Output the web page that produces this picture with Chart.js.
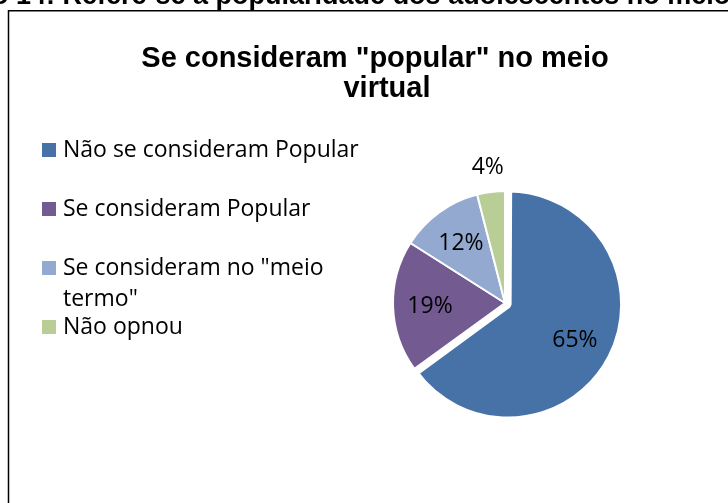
<!DOCTYPE html>
<html lang="pt">
<head>
<meta charset="utf-8">
<title>Se consideram "popular" no meio virtual</title>
<script src="https://cdn.jsdelivr.net/npm/chart.js@4/dist/chart.umd.min.js"></script>
<style>
    html, body { margin: 0; padding: 0; background: #ffffff; }
    #wrap { position: relative; width: 728px; height: 503px; }
</style>
</head>
<body>
<div id="wrap"><canvas id="popChart"></canvas></div>
<script>
// ==================== DATA ====================

const captionText = 'Gráfico 14: Refere-se a popularidade dos adolescentes no meio virtual';
const titleLines = ['Se consideram "popular" no meio', 'virtual'];
const categories = [
    'Não se consideram Popular',
    'Se consideram Popular',
    'Se consideram no "meio termo"',
    'Não opnou'
];
const percentages = [65, 19, 12, 4];
const sliceColors = ['#4672a8', '#735a91', '#93a9d0', '#b9cd97'];

// Chart.js pushes an arc out by offset/4 px and also grows it by the same amount;
// the wider white border on the pulled-out slice trims it back to the common radius
const sliceOffsets = [14, 0, 0, 0];
const sliceBorders = [7, 2, 2, 2];

// ==================== FONTS ====================

const TITLE_FONT = 'bold 29px "Liberation Sans", Arial, sans-serif';
const CAPTION_FONT = 'bold 27px "Liberation Sans", Arial, sans-serif';
const BODY_FONT = '23px "Open Sans", "Noto Sans", sans-serif';

// ==================== PLUGINS ====================

// Caption line above the box, the box frame and the chart title
const framePlugin = {
    id: 'framePlugin',
    beforeDraw(chart) {
        const ctx = chart.ctx;
        ctx.save();
        ctx.fillStyle = '#ffffff';
        ctx.fillRect(0, 0, chart.width, chart.height);

        // caption sits mostly above the visible page
        ctx.font = CAPTION_FONT;
        ctx.fillStyle = '#000000';
        ctx.textBaseline = 'alphabetic';
        const lead = ctx.measureText('Gráfico ').width;
        ctx.fillText(captionText, 16 - lead, 4);

        // frame (only top and left edges fall inside the page)
        ctx.strokeStyle = '#000000';
        ctx.lineWidth = 1.5;
        ctx.beginPath();
        ctx.moveTo(8.5, chart.height + 2);
        ctx.lineTo(8.5, 10.75);
        ctx.lineTo(chart.width + 2, 10.75);
        ctx.stroke();

        // title
        ctx.font = TITLE_FONT;
        ctx.textAlign = 'center';
        ctx.fillText(titleLines[0], 375, 67);
        ctx.fillText(titleLines[1], 387, 97);
        ctx.restore();
    }
};

// Split a label into lines that fit maxWidth
function wrapText(ctx, text, maxWidth) {
    const words = text.split(' ');
    const lines = [];
    let line = '';
    words.forEach(w => {
        const test = line ? line + ' ' + w : w;
        if (ctx.measureText(test).width > maxWidth && line) {
            lines.push(line);
            line = w;
        } else {
            line = test;
        }
    });
    if (line) lines.push(line);
    return lines;
}

// Legend on the left: one fixed slot per item, long labels wrap downward
const sideLegend = {
    id: 'sideLegend',
    afterDraw(chart) {
        const ctx = chart.ctx;
        const ds = chart.data.datasets[0];
        ctx.save();
        ctx.font = BODY_FONT;
        ctx.textAlign = 'left';
        ctx.textBaseline = 'alphabetic';
        chart.data.labels.forEach((label, i) => {
            const base = 157 + i * 59;
            ctx.fillStyle = ds.backgroundColor[i];
            ctx.fillRect(42, base - 14, 14, 14);
            ctx.fillStyle = '#000000';
            const lines = wrapText(ctx, label, 305);
            lines.forEach((ln, k) => ctx.fillText(ln, 63, base + k * 31));
        });
        ctx.restore();
    }
};

// Percent labels: inside the larger slices, just outside the small one
const sliceLabels = {
    id: 'sliceLabels',
    afterDatasetsDraw(chart) {
        const ctx = chart.ctx;
        const meta = chart.getDatasetMeta(0);
        const values = chart.data.datasets[0].data;
        const total = values.reduce((a, b) => a + b, 0);
        ctx.save();
        ctx.font = BODY_FONT;
        ctx.fillStyle = '#000000';
        ctx.textAlign = 'center';
        ctx.textBaseline = 'alphabetic';
        meta.data.forEach((arc, i) => {
            const p = arc.getProps(['x', 'y', 'startAngle', 'endAngle', 'outerRadius'], true);
            const mid = (p.startAngle + p.endAngle) / 2;
            const share = values[i] / total;
            const off = (arc.options.offset || 0) / 4;
            const r = share < 0.05 ? p.outerRadius * 1.23 : p.outerRadius * 0.67 + off;
            const x = p.x + Math.cos(mid) * r;
            const y = p.y + Math.sin(mid) * r;
            // baseline placed so the digits are centred on the point
            ctx.fillText(Math.round(share * 100) + '%', x, y + 8);
        });
        ctx.restore();
    }
};

// ==================== CHART ====================

const popChart = new Chart(document.getElementById('popChart'), {
    type: 'pie',
    data: {
        labels: categories,
        datasets: [{
            data: percentages,
            backgroundColor: sliceColors,
            borderColor: '#ffffff',
            borderWidth: sliceBorders,
            offset: sliceOffsets,
            radius: 112
        }]
    },
    options: {
        responsive: true,
        maintainAspectRatio: false,
        animation: false,
        layout: {
            padding: { left: 375, right: 93, top: 173, bottom: 70 }
        },
        plugins: {
            legend: { display: false },
            title: { display: false },
            tooltip: { enabled: false }
        }
    },
    plugins: [framePlugin, sideLegend, sliceLabels]
});
</script>
</body>
</html>
